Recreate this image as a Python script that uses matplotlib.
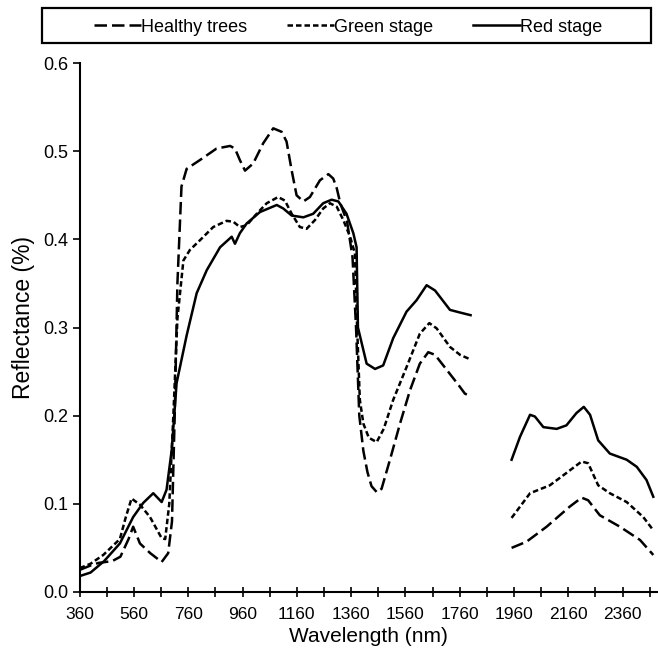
import numpy as np
import matplotlib
matplotlib.use("Agg")
import matplotlib.pyplot as plt
from matplotlib.patches import Rectangle
from matplotlib.ticker import MultipleLocator, FormatStrFormatter

plt.rcParams["font.family"] = ["Liberation Sans", "DejaVu Sans"]

# Spectra; NaN marks the water absorption gap
healthy_nm = [360, 400, 430, 480, 510, 540, 557, 582, 620, 662, 686, 700, 710, 720, 735, 754,
              803, 864, 914, 932, 950, 969, 999, 1036, 1073, 1104, 1122, 1141, 1159, 1184, 1208,
              1245, 1276, 1294, 1307, 1320, 1345, 1365, 1378, 1390, 1405, 1420, 1435, 1455, 1472, 1503,
              1540, 1577, 1613, 1644, 1669, 1712, 1755, 1779, 1800,
              1880,
              1951, 2006, 2080, 2166, 2209, 2233, 2276, 2350, 2424, 2473]
healthy_val = [0.025, 0.030, 0.033, 0.035, 0.040, 0.060, 0.074, 0.055, 0.044, 0.034, 0.044, 0.080, 0.200, 0.350, 0.460, 0.480,
               0.490, 0.503, 0.506, 0.503, 0.490, 0.478, 0.486, 0.509, 0.526, 0.522, 0.511, 0.478, 0.450, 0.443, 0.448,
               0.467, 0.474, 0.469, 0.458, 0.441, 0.420, 0.380, 0.300, 0.200, 0.160, 0.136, 0.120, 0.113, 0.117, 0.150,
               0.191, 0.229, 0.259, 0.272, 0.269, 0.252, 0.235, 0.225, 0.222,
               np.nan,
               0.050, 0.057, 0.074, 0.097, 0.107, 0.104, 0.087, 0.074, 0.059, 0.042]

green_nm = [360, 400, 447, 508, 530, 551, 582, 619, 662, 675, 690, 705, 720, 742, 766, 803, 852,
            901, 926, 950, 975, 1012, 1049, 1091, 1116, 1141, 1171, 1196, 1227, 1257, 1282, 1307,
            1331, 1356, 1374, 1382, 1392, 1405, 1425, 1454, 1480, 1515, 1564, 1613, 1648, 1675,
            1724, 1761, 1798,
            1880,
            1951, 2019, 2092, 2153, 2209, 2233, 2270, 2313, 2375, 2436, 2473]
green_val = [0.027, 0.032, 0.042, 0.060, 0.085, 0.106, 0.099, 0.085, 0.061, 0.060, 0.100, 0.200, 0.310, 0.376, 0.388, 0.399, 0.414,
             0.421, 0.420, 0.414, 0.416, 0.429, 0.441, 0.448, 0.444, 0.429, 0.414, 0.412, 0.422, 0.435, 0.441, 0.437,
             0.422, 0.403, 0.384, 0.300, 0.218, 0.191, 0.175, 0.170, 0.185, 0.218, 0.255, 0.293, 0.305, 0.299,
             0.278, 0.269, 0.264,
             np.nan,
             0.084, 0.112, 0.121, 0.135, 0.148, 0.146, 0.121, 0.112, 0.102, 0.085, 0.070]

red_nm = [360, 400, 450, 508, 557, 594, 631, 662, 680, 699, 717, 754, 791, 828, 877, 920, 932, 950,
          975, 1024, 1086, 1110, 1141, 1184, 1220, 1257, 1288, 1313, 1343, 1368, 1380, 1385, 1417,
          1448, 1478, 1515, 1564, 1601, 1638, 1669, 1724, 1761, 1800,
          1880,
          1951, 1982, 2019, 2037, 2068, 2117, 2153, 2190, 2217, 2240, 2270, 2313, 2375, 2412, 2448, 2473]
red_val = [0.018, 0.022, 0.035, 0.055, 0.085, 0.101, 0.112, 0.102, 0.116, 0.161, 0.237, 0.291, 0.339, 0.365, 0.391, 0.403, 0.395, 0.407,
           0.418, 0.431, 0.439, 0.435, 0.427, 0.425, 0.429, 0.441, 0.445, 0.443, 0.429, 0.407, 0.391, 0.300, 0.259,
           0.253, 0.257, 0.288, 0.318, 0.331, 0.348, 0.342, 0.320, 0.317, 0.314,
           np.nan,
           0.150, 0.176, 0.201, 0.199, 0.187, 0.185, 0.189, 0.203, 0.210, 0.201, 0.172, 0.157, 0.150, 0.142, 0.127, 0.108]

fig = plt.figure(figsize=(6.58, 6.57), dpi=100)
ax = fig.add_axes([0.1211, 0.099, 0.8767, 0.805])

lw = 1.8
ax.plot(healthy_nm, healthy_val, color="black", lw=lw, dashes=(5, 2), label="Healthy trees")
ax.plot(green_nm, green_val, color="black", lw=lw, dashes=(2.2, 1.2), label="Green stage")
ax.plot(red_nm, red_val, color="black", lw=lw, label="Red stage")

ax.set_xlim(360, 2485)
ax.set_ylim(0, 0.6)
ax.xaxis.set_major_locator(MultipleLocator(200, offset=160))
ax.xaxis.set_minor_locator(MultipleLocator(100, offset=60))
ax.yaxis.set_major_locator(MultipleLocator(0.1))
ax.yaxis.set_major_formatter(FormatStrFormatter("%.1f"))
ax.tick_params(axis="x", which="both", direction="inout", length=7, width=1.2, labelsize=12.5, pad=7)
ax.tick_params(axis="y", direction="out", length=5, width=1.2, labelsize=13)

for side in ("top", "right"):
    ax.spines[side].set_visible(False)
for side in ("left", "bottom"):
    ax.spines[side].set_linewidth(1.5)

ax.set_xlabel("Wavelength (nm)", fontsize=15, labelpad=4)
ax.set_ylabel("Reflectance (%)", fontsize=16.5, labelpad=6)
ax.yaxis.set_label_coords(-0.078, 0.518)

# legend box across the top
fig.patches.append(Rectangle((42 / 658, 1 - 43 / 657), 609 / 658, 35 / 657, transform=fig.transFigure,
                             fill=False, edgecolor="black", linewidth=1.6))
fig.legend(loc="center", bbox_to_anchor=(348 / 658, 1 - 27 / 657), ncol=3, fontsize=13, frameon=False,
           handlelength=2.6, handletextpad=0.0, columnspacing=2.2, borderaxespad=0.0)

fig.savefig("out.png", dpi=100)
